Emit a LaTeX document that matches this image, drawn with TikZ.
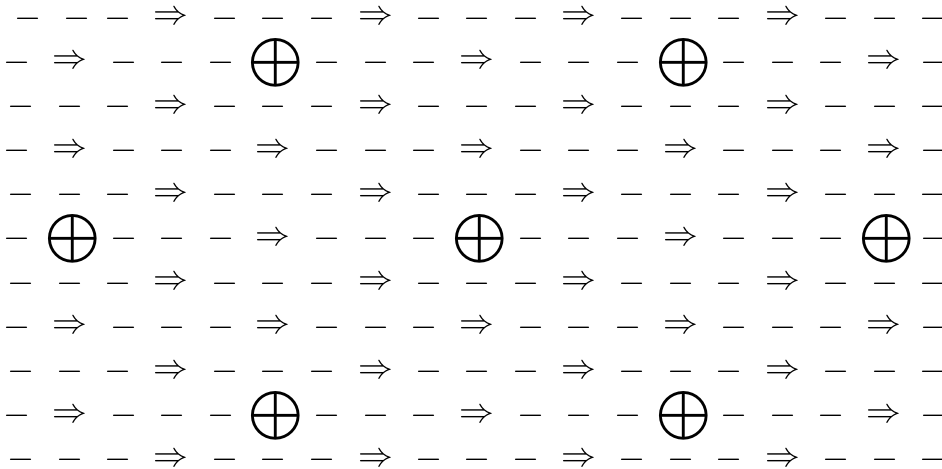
\documentclass[tikz,border=0pt]{standalone}
\usepackage{amsmath, amssymb}
\tikzset{
    sym_base/.style={
        inner sep=0pt, outer sep=0pt, font=\fontsize{12}{14}\selectfont
    },
    sym_minus/.style={sym_base},
    sym_arrow/.style={sym_base},
    sym_oplus/.style={sym_base}
}
% column centres (px) of the even and the odd rows
\def\xeven{21.5,70,118,171,225,273.5,322,375.5,429,477,526,578.5,632,681,729,782.5,836,885,933}
\def\xodd{17.5,70,124,172.5,221,273,327,376,424,477,531,579,628.5,681,734.5,783,831,884,934.5}

\begin{document}
\begin{tikzpicture}[x=0.345pt, y=-0.345pt]

    % --- Frame ---
    \useasboundingbox (0,0) rectangle (942,468);

    % --- Symbol lattice: 11 rows, 19 columns ---
    \foreach \r in {0,...,10} {
        \pgfmathsetmacro{\yy}{18.3+44.17*\r}
        \ifodd\r\relax \let\xlist\xodd \else \let\xlist\xeven \fi
        \foreach \x [count=\c from 0] in \xlist {
            \pgfmathsetmacro{\xx}{\x+6.75*(\r==0)*(\c<2)}
            \pgfmathtruncatemacro{\kind}{isodd(\r)*(mod(\c,4)==1)*(1+(mod(\r+\c,8)==6)) + (1-isodd(\r))*(mod(\c,4)==3)}
            \ifcase\kind
                \node[sym_minus] (s-\r-\c) at (\xx,\yy) {$-$};
            \or
                \node[sym_arrow] (s-\r-\c) at (\xx,\yy) {$\Rightarrow$};
            \or
                \node[sym_oplus] (s-\r-\c) at (\xx+3,\yy) {$\displaystyle\bigoplus$};
            \fi
        }
    }

\end{tikzpicture}
\end{document}
